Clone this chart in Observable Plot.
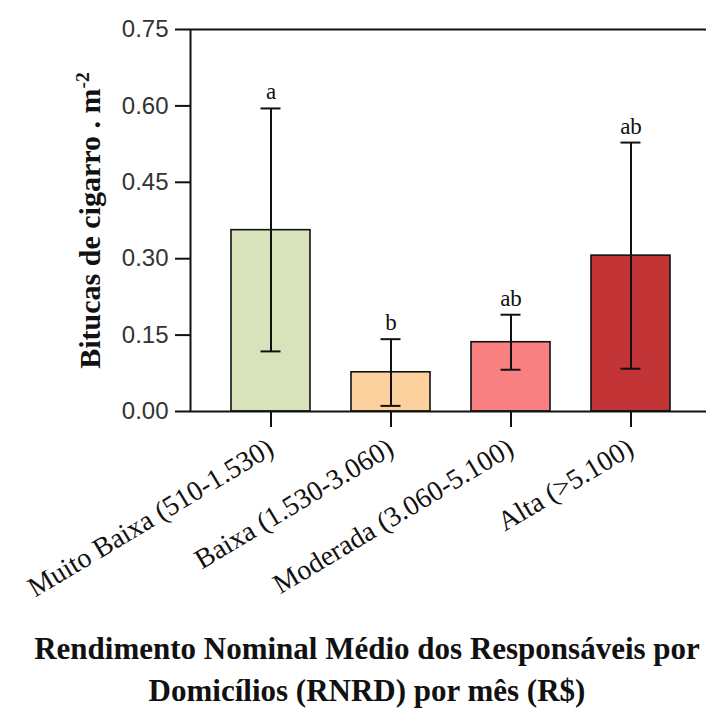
<!DOCTYPE html>
<html>
<head>
<meta charset="utf-8">
<script src="https://cdn.jsdelivr.net/npm/d3@7"></script>
<script src="https://cdn.jsdelivr.net/npm/@observablehq/plot@0.6"></script>
<style>
  html, body { margin: 0; padding: 0; background: #fff; }
  #chart { width: 706px; }
  #caption {
    width: 706px; box-sizing: border-box; padding-left: 28px; padding-top: 8px;
    text-align: center; white-space: nowrap;
    font-family: "Liberation Serif", "Times New Roman", serif; font-weight: bold;
    font-size: 31px; line-height: 42px; color: #111;
  }
</style>
</head>
<body>
<div id="chart"></div>
<div id="caption">Rendimento Nominal Médio dos Responsáveis por<br>Domicílios (RNRD) por mês (R$)</div>
<script>
const categories = ["Muito Baixa (510-1.530)", "Baixa (1.530-3.060)", "Moderada (3.060-5.100)", "Alta (>5.100)"];
const means  = [0.356, 0.077, 0.136, 0.306];
const lower  = [0.118, 0.011, 0.082, 0.084];
const upper  = [0.595, 0.142, 0.190, 0.528];
const letters = ["a", "b", "ab", "ab"];
const colors = ["#d8e3bc", "#fdd19d", "#f88080", "#c23436"];
const yTicks = [0, 0.15, 0.30, 0.45, 0.60, 0.75];
const yLabelMain = "Bitucas de cigarro . m";
const yLabelSup = "-2";

const data = categories.map((c, i) => ({cat: c, mean: means[i], lo: lower[i], hi: upper[i], letter: letters[i]}));

const serif = "'Liberation Serif', 'Times New Roman', serif";
const sans = "'Liberation Sans', Arial, sans-serif";

const svg = Plot.plot({
  width: 706,
  height: 620,
  marginLeft: 190,
  marginRight: -6,
  marginTop: 29,
  marginBottom: 209,
  style: {background: "#fff", color: "#111", overflow: "visible"},
  x: {domain: categories, range: [190, 712], paddingInner: 0.34, paddingOuter: 0.33, label: null},
  y: {domain: [0, 0.75], label: null},
  color: {domain: categories, range: colors},
  marks: [
    Plot.barY(data, {x: "cat", y: "mean", fill: "cat", stroke: "#111", strokeWidth: 1.6}),
    Plot.ruleX(data, {x: "cat", y1: "lo", y2: "hi", stroke: "#111", strokeWidth: 2}),
    Plot.tickY(data, {x: "cat", y: "hi", insetLeft: 29.5, insetRight: 29.5, stroke: "#111", strokeWidth: 2}),
    Plot.tickY(data, {x: "cat", y: "lo", insetLeft: 29.5, insetRight: 29.5, stroke: "#111", strokeWidth: 2}),
    Plot.text(data, {x: "cat", y: "hi", text: "letter", lineAnchor: "bottom", dy: -9, fontSize: 23, fontFamily: serif, fill: "#111"}),
    Plot.frame({stroke: "#111", strokeWidth: 2}),
    Plot.axisY({ticks: yTicks, tickFormat: d3.format(".2f"), tickSize: 15, tickPadding: 7, fontSize: 24, fontFamily: sans, stroke: "#111", fill: "#333", strokeWidth: 2, label: null}),
    Plot.axisX({tickSize: 16, tickPadding: 18, tickRotate: -31, fontSize: 28, fontFamily: serif, stroke: "#111", fill: "#111", strokeWidth: 2, label: null}),
    Plot.text([yLabelMain], {frameAnchor: "left", textAnchor: "middle", rotate: -90, dx: -100, fontSize: 30, fontWeight: "bold", fontFamily: serif, fill: "#111"})
  ]
});

// add the superscript to the y axis title
d3.select(svg).selectAll("text").filter(function() { return this.textContent === yLabelMain; })
  .each(function() {
    const t = d3.select(this);
    t.text(null);
    t.append("tspan").text(yLabelMain);
    t.append("tspan").attr("dy", "-0.55em").attr("font-size", "0.65em").text(yLabelSup);
  });

document.getElementById("chart").appendChild(svg);
</script>
</body>
</html>
